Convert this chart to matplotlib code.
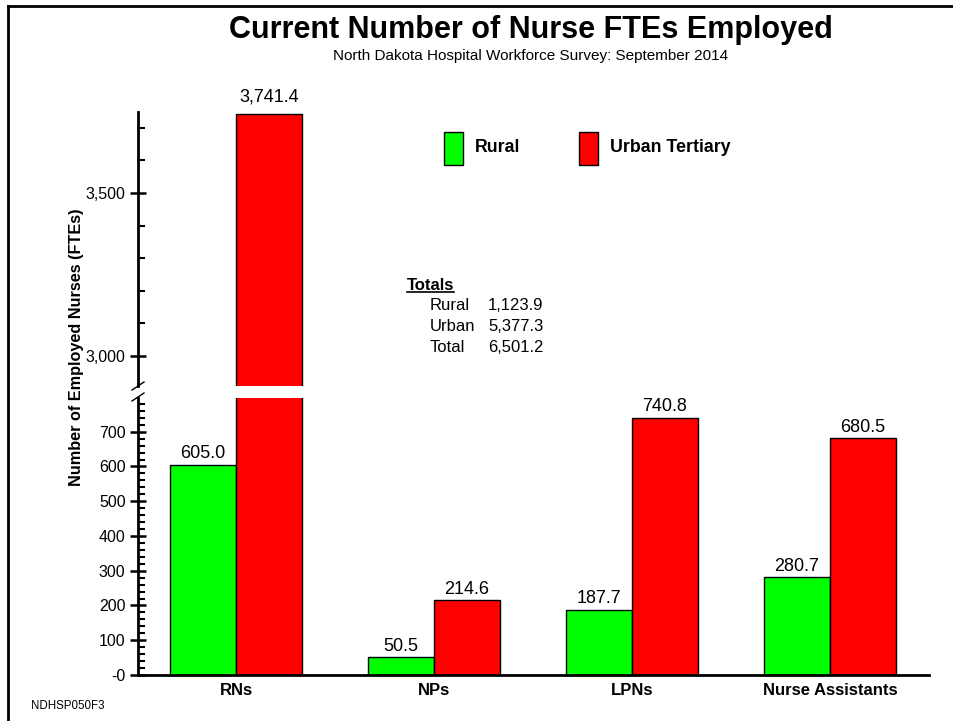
import numpy as np
import matplotlib.pyplot as plt
from matplotlib.ticker import MultipleLocator, FuncFormatter
from matplotlib.patches import Rectangle

plt.rcParams['font.family'] = ['Liberation Sans', 'DejaVu Sans']

categories = ["RNs", "NPs", "LPNs", "Nurse Assistants"]
rural = [605.0, 50.5, 187.7, 280.7]
urban = [3741.4, 214.6, 740.8, 680.5]
totals_names = ["Rural", "Urban", "Total"]
totals_values = ["1,123.9", "5,377.3", "6,501.2"]

green = "#00ff00"
red = "#ff0000"

fig = plt.figure(figsize=(9.54, 7.21), dpi=100)
# page border: top and left only
fig.lines.append(plt.Line2D([8.5 / 954, 1.0], [1 - 6 / 721] * 2, transform=fig.transFigure,
                            color="black", linewidth=2))
fig.lines.append(plt.Line2D([8.5 / 954] * 2, [0, 1 - 6 / 721], transform=fig.transFigure,
                            color="black", linewidth=2))

ax_lo = fig.add_axes([0.1447, 0.0638, 0.8291, 0.3842])
ax_hi = fig.add_axes([0.1447, 0.4646, 0.8291, 0.3801])

x = np.arange(len(categories))
w = 0.333

for ax in (ax_lo, ax_hi):
    ax.bar(x - w / 2, rural, w, color=green, edgecolor="black", linewidth=1)
    ax.bar(x + w / 2, urban, w, color=red, edgecolor="black", linewidth=1)
    ax.set_xlim(-0.495, 3.5)
    ax.spines['top'].set_visible(False)
    ax.spines['right'].set_visible(False)
    ax.spines['left'].set_linewidth(2)
    ax.tick_params(axis='y', which='major', direction='inout', length=11, width=1.8, labelsize=11.5)
    ax.tick_params(axis='y', which='minor', direction='in', length=5, width=1.5)

ax_lo.set_ylim(0, 797)
ax_lo.yaxis.set_major_locator(MultipleLocator(100))
ax_lo.yaxis.set_minor_locator(MultipleLocator(20))
ax_lo.yaxis.set_major_formatter(FuncFormatter(lambda v, p: "-0" if v == 0 else f"{v:,.0f}"))
ax_lo.spines['bottom'].set_linewidth(2)
ax_lo.set_xticks(x)
ax_lo.set_xticklabels(categories, fontweight='bold', fontsize=12)
ax_lo.tick_params(axis='x', length=0, pad=6)

ax_hi.set_ylim(2908, 3748)
ax_hi.yaxis.set_major_locator(MultipleLocator(500))
ax_hi.yaxis.set_minor_locator(MultipleLocator(100))
ax_hi.yaxis.set_major_formatter(FuncFormatter(lambda v, p: f"{v:,.0f}"))
ax_hi.spines['bottom'].set_visible(False)
ax_hi.set_xticks([])

# value labels
for i in range(len(categories)):
    ax_lo.text(x[i] - w / 2, rural[i] + 8, f"{rural[i]:,.1f}", ha='center', va='bottom', fontsize=13)
    if urban[i] < 797:
        ax_lo.text(x[i] + w / 2, urban[i] + 8, f"{urban[i]:,.1f}", ha='center', va='bottom', fontsize=13)
    else:
        ax_hi.text(x[i] + w / 2, urban[i] + 25, f"{urban[i]:,.1f}", ha='center', va='bottom', fontsize=13)

# break marks
for yb in (386, 397):
    y0 = 1 - (yb + 4) / 721
    y1 = 1 - (yb - 4) / 721
    fig.lines.append(plt.Line2D([132 / 954, 144 / 954], [y0, y1], transform=fig.transFigure,
                                color="black", linewidth=1))

# titles
fig.text(531 / 954, 1 - 30 / 721, "Current Number of Nurse FTEs Employed", ha='center', va='center',
         fontsize=22, fontweight='bold')
fig.text(531 / 954, 1 - 56 / 721, "North Dakota Hospital Workforce Survey: September 2014", ha='center',
         va='center', fontsize=11)
fig.text(77 / 954, 1 - 347 / 721, "Number of Employed Nurses (FTEs)", rotation=90, ha='center',
         va='center', fontsize=11.7, fontweight='bold')
fig.text(31 / 954, 1 - 706 / 721, "NDHSP050F3", ha='left', va='center', fontsize=8.3)

# legend
for xb, col, lab in ((444, green, "Rural"), (579, red, "Urban Tertiary")):
    fig.patches.append(Rectangle((xb / 954, 1 - 165 / 721), 19 / 954, 33 / 721, transform=fig.transFigure,
                                 facecolor=col, edgecolor="black", linewidth=1))
    fig.text((xb + 31) / 954, 1 - 148 / 721, lab, ha='left', va='center', fontsize=12.8, fontweight='bold')

# totals box
fig.text(407 / 954, 1 - 285 / 721, "Totals", ha='left', va='center', fontsize=12, fontweight='bold')
fig.lines.append(plt.Line2D([407 / 954, 454 / 954], [1 - 292 / 721] * 2, transform=fig.transFigure,
                            color="black", linewidth=1.2))
for k in range(len(totals_names)):
    yy = 1 - (306 + k * 20.5) / 721
    fig.text(430 / 954, yy, totals_names[k], ha='left', va='center', fontsize=12)
    fig.text(488 / 954, yy, totals_values[k], ha='left', va='center', fontsize=12)

fig.savefig("out.png", dpi=100)
